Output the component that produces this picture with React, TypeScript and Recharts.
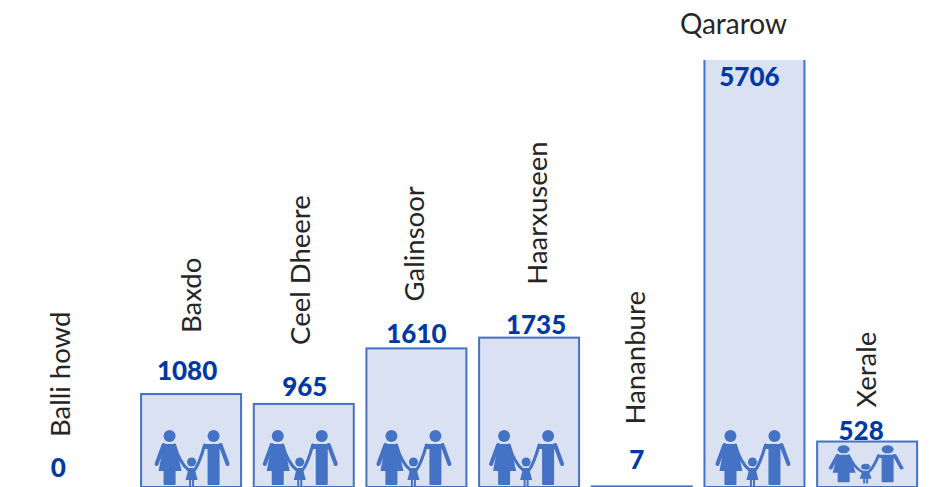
import { BarChart, Bar, XAxis, YAxis, LabelList } from 'recharts';

const districts = ['Balli howd', 'Baxdo', 'Ceel Dheere', 'Galinsoor', 'Haarxuseen', 'Hananbure', 'Qararow', 'Xerale'];
const households = [0, 1080, 965, 1610, 1735, 7, 5706, 528];

const chartData = districts.map((name, i) => ({ name, households: households[i] }));

// hand-placed label nudges per district, relative to the top of the bar
const nudges: Record<string, { nameDx: number; nameDy: number; valueDx: number; valueDy: number; iconDx: number }> = {
  'Balli howd': { nameDx: -19, nameDy: -50, valueDx: -20, valueDy: -20, iconDx: 0 },
  Baxdo: { nameDx: -1, nameDy: -61, valueDx: -4, valueDy: -24, iconDx: 0.5 },
  'Ceel Dheere': { nameDx: -4, nameDy: -59, valueDx: 1, valueDy: -18, iconDx: -4 },
  Galinsoor: { nameDx: -3, nameDy: -47, valueDx: 0, valueDy: -15, iconDx: -3 },
  Haarxuseen: { nameDx: 7, nameDy: -53, valueDx: 7, valueDy: -13.5, iconDx: -3 },
  Hananbure: { nameDx: -7, nameDy: -62, valueDx: -5, valueDy: -27, iconDx: 0 },
  Qararow: { nameDx: -21, nameDy: -37, valueDx: -5, valueDy: 16, iconDx: -2 },
  Xerale: { nameDx: -2, nameDy: -34, valueDx: -6, valueDy: -11.5, iconDx: -1.5 },
};

const WIDTH = 934;
const HEIGHT = 487;
const PLOT_TOP = 60;
const BLUE = '#4472C4';
const TEXT_FONT = 'Lato, sans-serif';

function FamilyIcon({ x, y, squash }: { x: number; y: number; squash: number }) {
  return (
    <g transform={`translate(${x} ${y}) scale(1 ${squash})`} fill={BLUE} stroke="none">
      {/* woman */}
      <circle cx={-22} cy={-51} r={6} />
      <path d="M-28 -43 H-16 L-10 -16 H-16 V-3 Q-16 -2 -17 -2 H-27 Q-28 -2 -28 -3 V-16 H-33 Z" />
      <path d="M-28 -42 L-35 -23" stroke={BLUE} strokeWidth={4} strokeLinecap="round" fill="none" />
      {/* man */}
      <circle cx={22} cy={-51} r={6} />
      <path d="M12 -43 H30 L32 -38 H28 V-3 Q28 -2 27 -2 H17 Q16 -2 16 -3 V-38 H12 Z" />
      <path d="M29 -42 L36 -23" stroke={BLUE} strokeWidth={4} strokeLinecap="round" fill="none" />
      {/* child, holding both hands */}
      <circle cx={0} cy={-25} r={4.5} />
      <path d="M-3 -19 H3 L6 -7 H2.5 V0 H0.5 V-7 H-0.5 V0 H-2.5 V-7 H-6 Z" />
      <path
        d="M-17 -42 Q-12 -24 -3 -17 M13 -42 Q8 -24 3 -17"
        stroke={BLUE}
        strokeWidth={3}
        strokeLinecap="round"
        fill="none"
      />
    </g>
  );
}

function HouseholdBar(props: any) {
  const { x, y, width, height, name } = props;
  const baseline = y + height;
  const barHeight = baseline - Math.max(y, PLOT_TOP);
  const showIcon = barHeight > 30;
  // the family has to shrink to fit in a short bar
  const squash = barHeight < 57 ? 0.67 : 1;
  const lift = barHeight < 57 ? 3.5 : 0;
  return (
    <g>
      <rect x={x} y={y} width={width} height={height} fill="#DAE1F2" stroke={BLUE} strokeWidth={2} />
      {showIcon && (
        <FamilyIcon x={x + width / 2 + (nudges[name]?.iconDx ?? 0)} y={baseline - lift} squash={squash} />
      )}
    </g>
  );
}

function NameLabel(props: any) {
  const { x, y, width, index } = props;
  const name = districts[index];
  const n = nudges[name];
  const cx = x + width / 2 + n.nameDx;
  const top = Math.max(y, PLOT_TOP) + n.nameDy;
  if (name === 'Qararow') {
    return (
      <text x={cx} y={top} textAnchor="middle" dominantBaseline="central" fontFamily={TEXT_FONT} fontSize={28} fill="#262626">
        {name}
      </text>
    );
  }
  return (
    <text
      x={cx}
      y={top}
      transform={`rotate(-90 ${cx} ${top})`}
      textAnchor="start"
      dominantBaseline="central"
      fontFamily={TEXT_FONT}
      fontSize={27.5}
      fill="#262626"
    >
      {name}
    </text>
  );
}

function ValueLabel(props: any) {
  const { x, y, width, index, value } = props;
  const n = nudges[districts[index]];
  return (
    <text
      x={x + width / 2 + n.valueDx}
      y={Math.max(y, PLOT_TOP) + n.valueDy}
      textAnchor="middle"
      dominantBaseline="central"
      fontFamily={TEXT_FONT}
      fontWeight={900}
      fontSize={26}
      fill="#0039A6"
    >
      {value}
    </text>
  );
}

export default function App() {
  return (
    <div style={{ position: 'absolute', left: 0, top: 0, width: WIDTH, height: HEIGHT, overflow: 'hidden' }}>
      <BarChart
        width={WIDTH}
        height={HEIGHT}
        data={chartData}
        margin={{ top: PLOT_TOP, right: 10.2, bottom: 0, left: 22.4 }}
      >
        <XAxis dataKey="name" hide />
        {/* Qararow runs off the axis on purpose, the top of its bar is cut */}
        <YAxis hide domain={[0, 4960]} allowDataOverflow />
        <Bar dataKey="households" barSize={100} shape={HouseholdBar} isAnimationActive={false}>
          <LabelList dataKey="households" content={ValueLabel} />
          <LabelList dataKey="name" content={NameLabel} />
        </Bar>
      </BarChart>
    </div>
  );
}
